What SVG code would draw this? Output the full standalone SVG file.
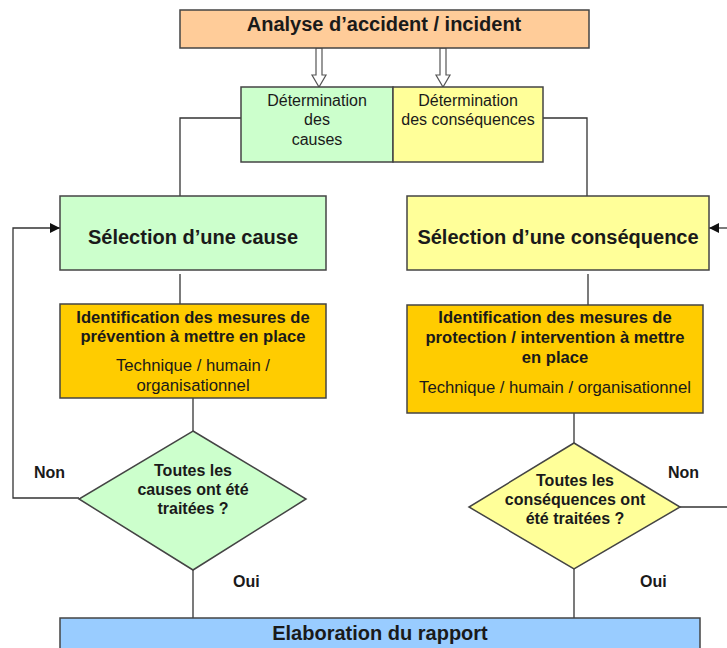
<svg xmlns="http://www.w3.org/2000/svg" width="727" height="648" viewBox="0 0 727 648">
  <style>
    .box { stroke: #444; stroke-width: 1.5; }
    .orange { fill: #FFCC99; }
    .green { fill: #CCFFCC; }
    .yellow { fill: #FFFF99; }
    .gold { fill: #FFCC00; }
    .blue { fill: #99CCFF; }
    text { font-family: "Liberation Sans", Arial, sans-serif; fill: #1a1a1a; text-anchor: middle; }
    .h1 { font-size: 20px; font-weight: bold; }
    .b16 { font-size: 16px; font-weight: bold; }
    .bid { font-size: 16.6px; font-weight: bold; }
    .n16 { font-size: 16px; }
    .ntech { font-size: 16.7px; }
    .lbl { font-size: 16px; font-weight: bold; text-anchor: start; }
    .line { fill: none; stroke: #333; stroke-width: 1.3; }
    .hollow { fill: #fff; stroke: #555; stroke-width: 1.2; }
  </style>
  <defs>
    <marker id="arrow" viewBox="0 0 10 10" refX="10" refY="5" markerWidth="10" markerHeight="10" markerUnits="userSpaceOnUse" orient="auto">
      <path d="M0,0 L10,5 L0,10 z" fill="#111"/>
    </marker>
  </defs>

  <!-- connectors -->
  <g id="connectors">
    <!-- block arrows from the analysis box -->
    <path class="hollow" d="M316,48 L322,48 L322,75 L326,75 L319,87 L312,75 L316,75 Z"/>
    <path class="hollow" d="M440,48 L446,48 L446,75 L450,75 L443,87 L436,75 L440,75 Z"/>
    <!-- determination to selection -->
    <polyline class="line" points="241,118 180,118 180,196"/>
    <polyline class="line" points="543,118 587,118 587,196"/>
    <!-- selection to identification -->
    <line class="line" x1="180" y1="274" x2="180" y2="304"/>
    <line class="line" x1="588" y1="274" x2="588" y2="305"/>
    <!-- identification to decisions -->
    <line class="line" x1="193" y1="398" x2="193" y2="431"/>
    <line class="line" x1="574" y1="413" x2="574" y2="443"/>
    <!-- loop back: causes -->
    <polyline class="line" points="79,498 13,498 13,228 60,228" marker-end="url(#arrow)"/>
    <!-- loop back: consequences -->
    <polyline class="line" points="680,507 727,507"/>
    <line class="line" x1="727" y1="228" x2="709" y2="228" marker-end="url(#arrow)"/>
    <!-- decisions to report -->
    <line class="line" x1="193" y1="570" x2="193" y2="618"/>
    <line class="line" x1="574" y1="569" x2="574" y2="618"/>
    <text class="lbl" x="34" y="478">Non</text>
    <text class="lbl" x="233" y="587">Oui</text>
    <text class="lbl" x="668" y="478">Non</text>
    <text class="lbl" x="640" y="587">Oui</text>
  </g>

  <g id="analyse">
    <rect class="box orange" x="180" y="10" width="409" height="38"/>
    <text class="h1" x="384" y="31">Analyse d’accident / incident</text>
  </g>

  <g id="det-causes">
    <rect class="box green" x="241" y="87" width="152" height="75"/>
    <text class="n16" x="317" y="106">Détermination</text>
    <text class="n16" x="317" y="125">des</text>
    <text class="n16" x="317" y="145">causes</text>
  </g>

  <g id="det-consequences">
    <rect class="box yellow" x="393" y="87" width="150" height="75"/>
    <text class="n16" x="468" y="106">Détermination</text>
    <text class="n16" x="468" y="125">des conséquences</text>
  </g>

  <g id="sel-cause">
    <rect class="box green" x="60" y="196" width="266" height="74"/>
    <text class="h1" x="193" y="244">Sélection d’une cause</text>
  </g>

  <g id="sel-consequence">
    <rect class="box yellow" x="407" y="196" width="302" height="74"/>
    <text class="h1" x="558" y="244">Sélection d’une conséquence</text>
  </g>

  <g id="id-prevention">
    <rect class="box gold" x="60" y="304" width="266" height="94"/>
    <text class="bid" x="193" y="323">Identification des mesures de</text>
    <text class="bid" x="193" y="342">prévention à mettre en place</text>
    <text class="ntech" x="193" y="371">Technique / humain /</text>
    <text class="ntech" x="193" y="391">organisationnel</text>
  </g>

  <g id="id-protection">
    <rect class="box gold" x="407" y="305" width="296" height="108"/>
    <text class="bid" x="555" y="323">Identification des mesures de</text>
    <text class="bid" x="555" y="343">protection / intervention à mettre</text>
    <text class="bid" x="555" y="363">en place</text>
    <text class="ntech" x="555" y="393">Technique / humain / organisationnel</text>
  </g>

  <g id="dec-causes">
    <polygon class="box green" points="193,431 306,499 193,570 79,499"/>
    <text class="b16" x="193" y="476">Toutes les</text>
    <text class="b16" x="193" y="495">causes ont été</text>
    <text class="b16" x="193" y="514">traitées ?</text>
  </g>

  <g id="dec-consequences">
    <polygon class="box yellow" points="574,443 680,507 574,569 469,507"/>
    <text class="b16" x="575" y="486">Toutes les</text>
    <text class="b16" x="575" y="505">conséquences ont</text>
    <text class="b16" x="575" y="524">été traitées ?</text>
  </g>

  <g id="rapport">
    <rect class="box blue" x="60" y="618" width="640" height="40"/>
    <text class="h1" x="380" y="640">Elaboration du rapport</text>
  </g>
</svg>
